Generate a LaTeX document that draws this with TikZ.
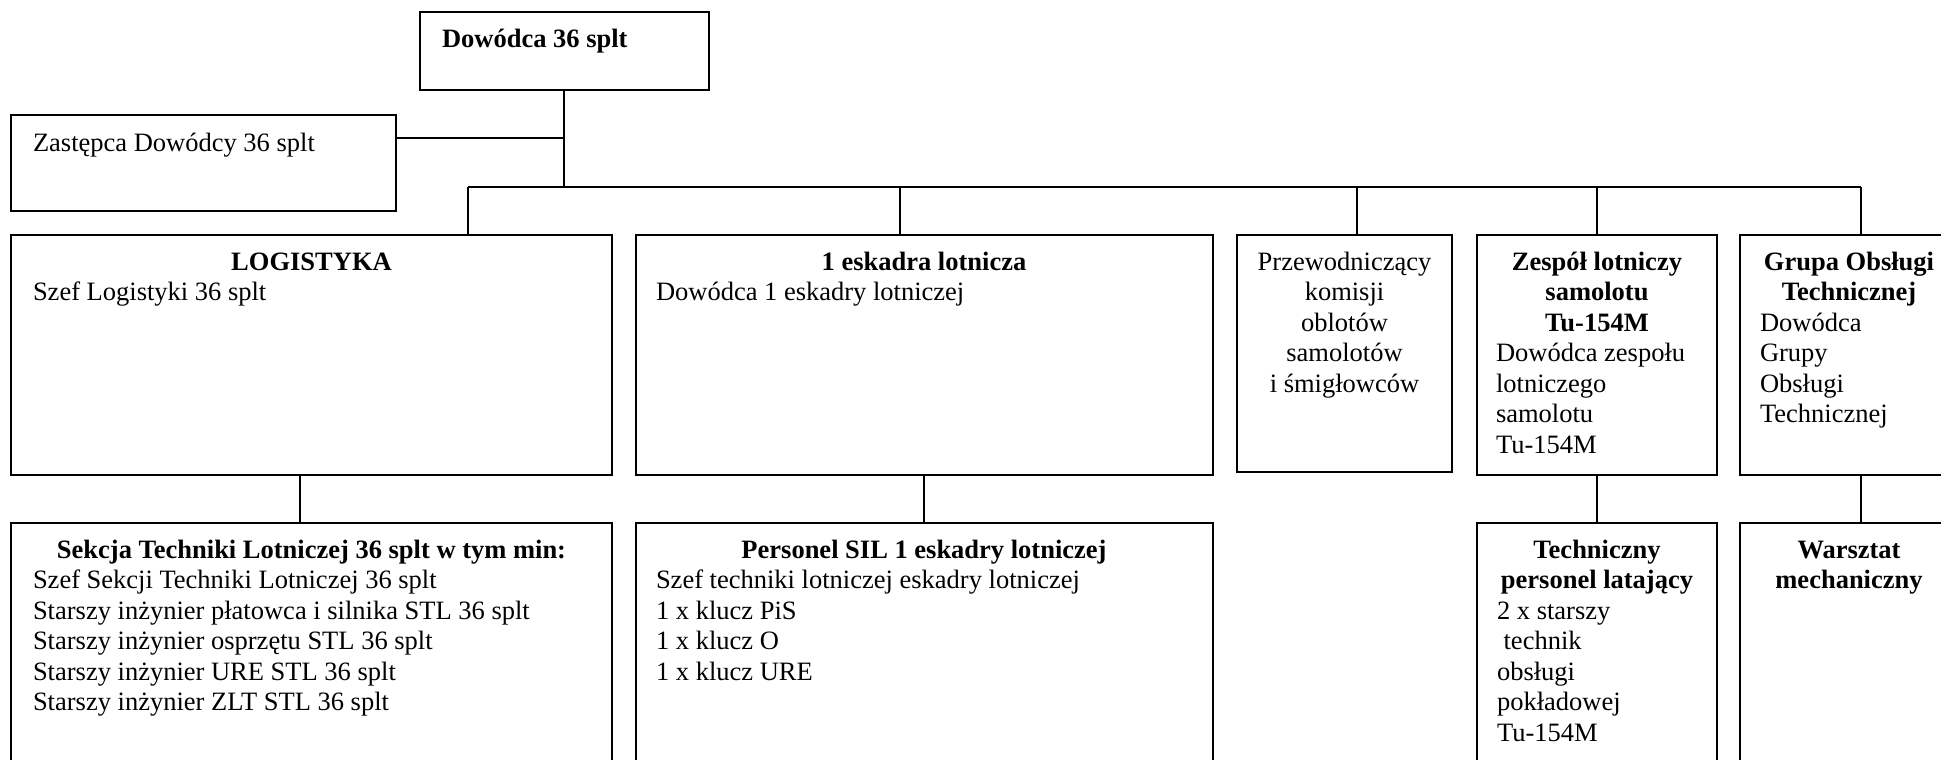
\documentclass[tikz,border=0pt]{standalone}
\usepackage{fontspec}
\setmainfont{Liberation Serif}
\tikzset{
  box/.style={draw, line width=2pt, inner sep=0pt, outer sep=0pt, anchor=north west},
  conn/.style={line width=1.5pt},
  txt/.style={inner sep=0pt, outer sep=0pt, font=\fontsize{26.5}{30.5}\selectfont},
}
\newcommand\tbox[2]{\parbox[t]{#1pt}{#2}}
\begin{document}
\begin{tikzpicture}[x=1pt,y=-1pt]
\useasboundingbox (0,0) rectangle (1941,760);
\clip (0,0) rectangle (1941,760);
\fill[white] (0,0) rectangle (1941,760);
% top level
\node[box, minimum width=289pt, minimum height=78pt] (dow) at (420,12) {};
\node[txt, anchor=base west] (dowt) at (442,48) {\bfseries Dowódca 36 splt};
\node[box, minimum width=385pt, minimum height=96pt] (zast) at (11,115) {};
\node[txt, anchor=base west] (zastt) at (33,151) {Zastępca Dowódcy 36 splt};
% second row
\node[box, minimum width=601pt, minimum height=240pt] (log) at (11,235) {};
\node[txt, anchor=base west] (logt) at (33,270) {\tbox{557}{\centering\bfseries LOGISTYKA\par\raggedright\mdseries Szef Logistyki 36 splt}};
\node[box, minimum width=577pt, minimum height=240pt] (esk) at (636,235) {};
\node[txt, anchor=base west] (eskt) at (656,270) {\tbox{536}{\centering\bfseries 1 eskadra lotnicza\par\raggedright\mdseries Dowódca 1 eskadry lotniczej}};
\node[box, minimum width=215pt, minimum height=237pt] (prz) at (1237,235) {};
\node[txt, anchor=base] (przt) at (1344.5,270) {\tbox{205}{\centering Przewodniczący\\komisji\\oblotów\\samolotów\\i śmigłowców}};
\node[box, minimum width=240pt, minimum height=240pt] (zes) at (1477,235) {};
\node[txt, anchor=base west] (zest) at (1496,270) {\tbox{202}{\centering\bfseries Zespół lotniczy\\samolotu\\Tu-154M\par\raggedright\mdseries Dowódca zespołu\\lotniczego\\samolotu\\Tu-154M}};
\node[box, minimum width=218pt, minimum height=240pt] (gru) at (1740,235) {};
\node[txt, anchor=base west] (grut) at (1760,270) {\tbox{178}{\centering\bfseries Grupa Obsługi\\Technicznej\par\raggedright\mdseries Dowódca\\Grupy\\Obsługi\\Technicznej}};
% third row
\node[box, minimum width=601pt, minimum height=300pt] (sek) at (11,523) {};
\node[txt, anchor=base west] (sekt) at (33,558) {\tbox{557}{\centering\bfseries Sekcja Techniki Lotniczej 36 splt w tym min:\par\raggedright\mdseries Szef Sekcji Techniki Lotniczej 36 splt\\Starszy inżynier płatowca i silnika STL 36 splt\\Starszy inżynier osprzętu STL 36 splt\\Starszy inżynier URE STL 36 splt\\Starszy inżynier ZLT STL 36 splt}};
\node[box, minimum width=577pt, minimum height=300pt] (per) at (636,523) {};
\node[txt, anchor=base west] (pert) at (656,558) {\tbox{536}{\centering\bfseries Personel SIL 1 eskadry lotniczej\par\raggedright\mdseries Szef techniki lotniczej eskadry lotniczej\\1 x klucz PiS\\1 x klucz O\\1 x klucz URE}};
\node[box, minimum width=240pt, minimum height=300pt] (tec) at (1477,523) {};
\node[txt, anchor=base west] (tect) at (1497,558) {\tbox{200}{\centering\bfseries Techniczny\\personel latający\par\raggedright\mdseries 2 x starszy\\\hspace*{6.6pt}technik\\obsługi\\pokładowej\\Tu-154M}};
\node[box, minimum width=218pt, minimum height=300pt] (war) at (1740,523) {};
\node[txt, anchor=base west] (wart) at (1760,558) {\tbox{178}{\centering\bfseries Warsztat\\mechaniczny}};
% connectors
\coordinate (j1) at (564,138);
\coordinate (b0) at (564,187);
\coordinate (bL) at (468,187);
\coordinate (b2) at (900,187);
\coordinate (b3) at (1357,187);
\coordinate (b4) at (1597,187);
\coordinate (bR) at (1861,187);
\coordinate (u1) at (300,500);
\coordinate (u2) at (924,500);
\draw[conn] (dow.south -| b0) -- (b0);
\draw[conn] (zast.east |- j1) -- (j1);
\draw[conn] (bL) -- (bR);
\draw[conn] (bL) -- (bL |- log.north);
\draw[conn] (b2) -- (b2 |- esk.north);
\draw[conn] (b3) -- (b3 |- prz.north);
\draw[conn] (b4) -- (b4 |- zes.north);
\draw[conn] (bR) -- (bR |- gru.north);
\draw[conn] (u1 |- log.south) -- (u1 |- sek.north);
\draw[conn] (u2 |- esk.south) -- (u2 |- per.north);
\draw[conn] (zes.south -| b4) -- (tec.north -| b4);
\draw[conn] (gru.south -| bR) -- (war.north -| bR);
\end{tikzpicture}
\end{document}
